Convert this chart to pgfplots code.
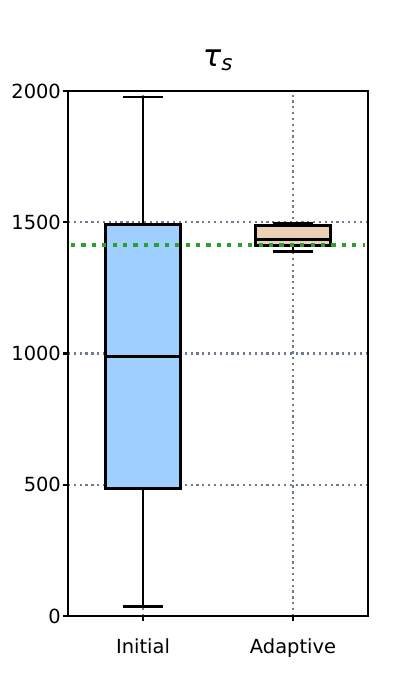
\documentclass[border=0pt]{standalone}
\usepackage{fontspec}
\setmainfont{DejaVu Sans}
\usepackage{pgfplots}
\pgfplotsset{compat=1.18}
\definecolor{boxblue}{RGB}{158,207,255}
\definecolor{boxtan}{RGB}{236,208,182}
\definecolor{gridgray}{RGB}{112,124,142}
\definecolor{mplgreen}{RGB}{44,160,44}
\begin{document}
\begin{tikzpicture}
\useasboundingbox (-48.96pt,-60.48pt) rectangle (239.04pt,443.52pt);
\begin{axis}[
  at={(0pt,0pt)}, anchor=south west,
  scale only axis,
  width=216pt, height=378pt,
  xmin=0.5, xmax=2.5, ymin=0, ymax=2000,
  xtick={1,2}, xticklabels={Initial,Adaptive},
  ytick={0,500,1000,1500,2000},
  tick align=outside, tick pos=left,
  major tick length=3.6pt,
  every tick/.style={black, line width=1.6pt},
  axis line style={line width=2pt},
  grid=major,
  major grid style={gridgray, line width=1.6pt, dash pattern=on 1.6pt off 2.6pt},
  ticklabel style={font=\fontsize{14}{16}\selectfont},
  /pgf/number format/assume math mode=true,
  /pgf/number format/1000 sep={},
  xticklabel style={yshift=-9pt},
  yticklabel style={xshift=2pt},
  title={\itshape τ\textsubscript{\itshape s}},
  title style={font=\fontsize{22}{26}\selectfont, yshift=5pt},
]
% Initial
\addplot[black, line width=2.1pt] coordinates {(1,35) (1,484)};
\addplot[black, line width=2.1pt] coordinates {(1,1490) (1,1977)};
\addplot[black, line width=2.1pt] coordinates {(0.865,35) (1.135,35)};
\addplot[black, line width=2.1pt] coordinates {(0.865,1977) (1.135,1977)};
\addplot[draw=black, fill=boxblue, line width=2.1pt] coordinates {(0.75,484) (1.25,484) (1.25,1490) (0.75,1490)} -- cycle;
\addplot[black, line width=2.1pt] coordinates {(0.75,990) (1.25,990)};
% Adaptive
\addplot[black, line width=2.1pt] coordinates {(2,1389) (2,1411)};
\addplot[black, line width=2.1pt] coordinates {(2,1487) (2,1495)};
\addplot[black, line width=2.1pt] coordinates {(1.865,1389) (2.135,1389)};
\addplot[black, line width=2.1pt] coordinates {(1.865,1495) (2.135,1495)};
\addplot[draw=black, fill=boxtan, line width=2.1pt] coordinates {(1.75,1411) (2.25,1411) (2.25,1487) (1.75,1487)} -- cycle;
\addplot[black, line width=2.1pt] coordinates {(1.75,1435) (2.25,1435)};
% reference line
\addplot[mplgreen, line width=3pt, dash pattern=on 3pt off 4.5pt] coordinates {(0.52,1413) (2.48,1413)};
\end{axis}
\end{tikzpicture}
\end{document}
